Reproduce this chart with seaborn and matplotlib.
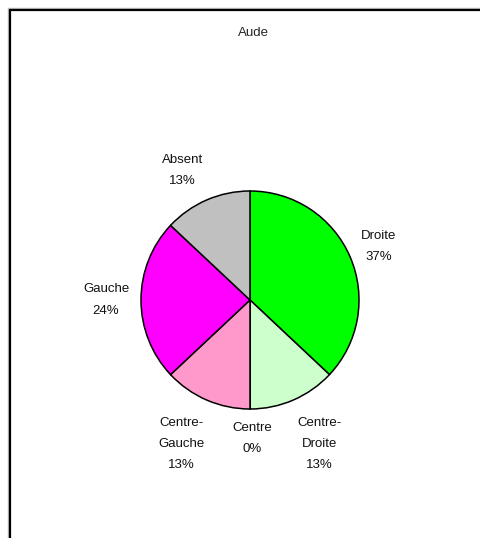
import matplotlib
matplotlib.use("Agg")
import matplotlib.pyplot as plt
from matplotlib.lines import Line2D
import seaborn as sns

# ── Data ──────────────────────────────────────────────────────────────────────
TITLE = "Aude"
LABELS = ["Droite", "Centre-\nDroite", "Centre", "Centre-\nGauche", "Gauche", "Absent"]
SHARES = [37, 13, 0, 13, 24, 13]
COLORS = ["#00FF00", "#CCFFCC", "#FFFFFF", "#FF99CC", "#FF00FF", "#C0C0C0"]

# label centres, in pie radii from the centre (Excel-style manual placement)
LABEL_POS = [(1.18, 0.49), (0.64, -1.32), (0.02, -1.27),
             (-0.63, -1.32), (-1.32, 0.0), (-0.62, 1.19)]

# ── Style ─────────────────────────────────────────────────────────────────────
sns.set_theme(style="white")
plt.rcParams["font.family"] = ["Liberation Sans", "DejaVu Sans"]

W, H = 481, 538
fig = plt.figure(figsize=(W / 100, H / 100), dpi=100)
fig.patch.set_facecolor("white")

# pie centre at (250, 300) px, radius 109 px -> axes spans +-2 radii
cx, cy, r = 250, 300, 109
ax = fig.add_axes([(cx - 2 * r) / W, (H - cy - 2 * r) / H, 4 * r / W, 4 * r / H])

ax.pie(SHARES, colors=COLORS, startangle=90, counterclock=False, radius=1,
       wedgeprops={"edgecolor": "black", "linewidth": 1.1})
ax.set_xlim(-2, 2)
ax.set_ylim(-2, 2)
ax.set_aspect("equal")
ax.axis("off")

for lab, val, (x, y) in zip(LABELS, SHARES, LABEL_POS):
    ax.text(x, y, f"{lab}\n{val}%", ha="center", va="center",
            fontsize=9.5, linespacing=2.0, color="#111111")

fig.text(253 / W, 1 - 33 / H, TITLE, ha="center", va="center", fontsize=9.5)

# frame (left + top edges, with a faint grey shadow line outside)
for off, col, lw in [(8, "#BBBBBB", 1.0), (10, "black", 1.6)]:
    fig.add_artist(Line2D([off / W, off / W], [0, 1 - off / H],
                          transform=fig.transFigure, color=col, lw=lw))
    fig.add_artist(Line2D([off / W, 1], [1 - off / H, 1 - off / H],
                          transform=fig.transFigure, color=col, lw=lw))

fig.savefig("out.png", dpi=100)
